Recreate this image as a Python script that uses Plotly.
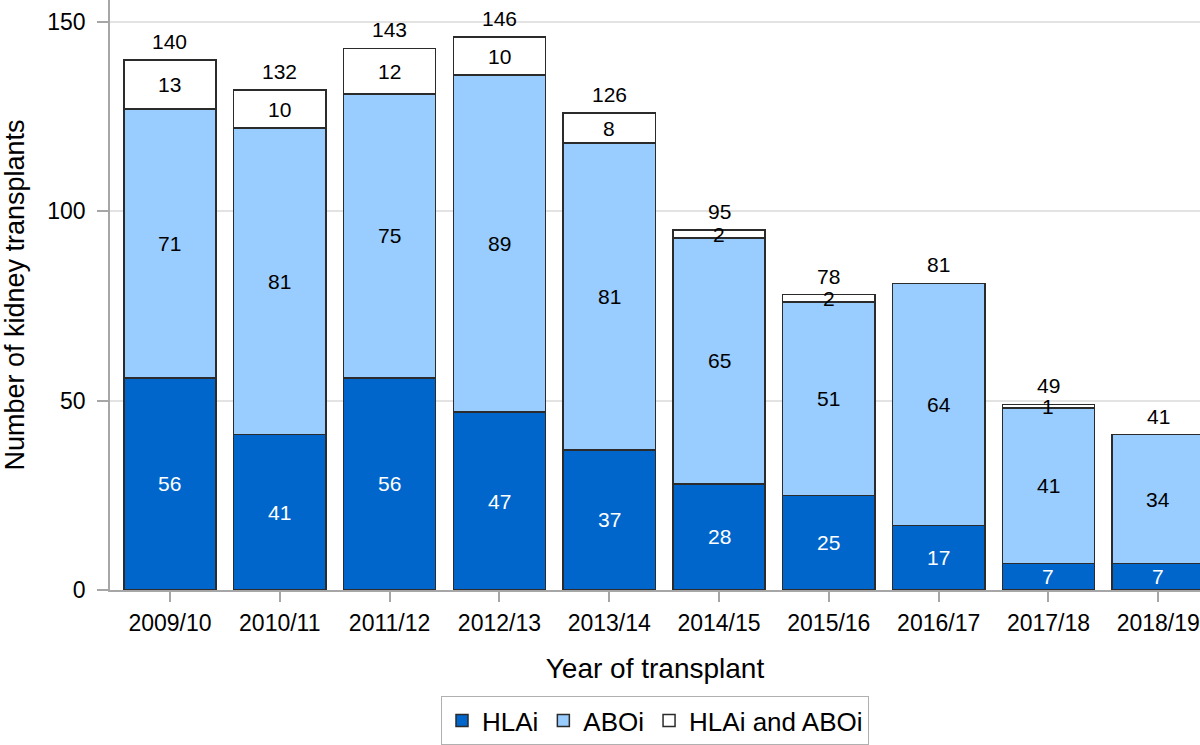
import plotly.graph_objects as go

years = ["2009/10", "2010/11", "2011/12", "2012/13", "2013/14",
         "2014/15", "2015/16", "2016/17", "2017/18", "2018/19"]
hlai = [56, 41, 56, 47, 37, 28, 25, 17, 7, 7]
aboi = [71, 81, 75, 89, 81, 65, 51, 64, 41, 34]
both = [13, 10, 12, 10, 8, 2, 2, 0, 1, 0]
totals = [140, 132, 143, 146, 126, 95, 78, 81, 49, 41]

font = "Liberation Sans, Arial, sans-serif"
edge = dict(color="#2b2b2b", width=1.5)
axis_grey = "#a6a6a6"

fig = go.Figure()
fig.add_trace(go.Bar(x=years, y=hlai, name="HLAi",
                     marker=dict(color="#0066CC", line=edge)))
fig.add_trace(go.Bar(x=years, y=aboi, name="ABOi",
                     marker=dict(color="#99CCFF", line=edge)))
fig.add_trace(go.Bar(x=years, y=both, name="HLAi and ABOi",
                     marker=dict(color="#FFFFFF", line=edge)))

# segment labels
for i, yr in enumerate(years):
    base = 0
    for vals, col in ((hlai, "white"), (aboi, "black"), (both, "black")):
        v = vals[i]
        if v > 0:
            fig.add_annotation(x=yr, y=base + v / 2, text=str(v), showarrow=False,
                               font=dict(family=font, size=21, color=col))
        base += v
    fig.add_annotation(x=yr, y=totals[i], text=str(totals[i]), showarrow=False,
                       yanchor="bottom", yshift=5,
                       font=dict(family=font, size=21, color="black"))

fig.update_layout(
    barmode="stack",
    bargap=0.16,
    width=1200, height=745,
    margin=dict(l=110, r=0, t=0, b=155),
    paper_bgcolor="white", plot_bgcolor="white",
    font=dict(family=font, size=23, color="black"),
    legend=dict(orientation="h", x=0.5, xanchor="center", y=-0.18, yanchor="top",
                bordercolor="#b0b0b0", borderwidth=1, font=dict(size=26),
                itemwidth=30, traceorder="normal"),
    xaxis=dict(range=[-0.546, 9.38], showline=True, linecolor=axis_grey, linewidth=1.5,
               ticks="outside", tickcolor=axis_grey, ticklen=10, tickwidth=1.5,
               tickfont=dict(size=23), ticklabelstandoff=2, automargin=False,
               title=dict(text="Year of transplant", font=dict(size=28), standoff=23)),
    yaxis=dict(range=[0, 155.8], tickvals=[0, 50, 100, 150], showline=True,
               linecolor=axis_grey, linewidth=1.5, ticks="outside", tickcolor=axis_grey,
               ticklen=11, tickwidth=1.5, showgrid=True, gridcolor="#e3e3e3",
               gridwidth=1.5, zeroline=False, tickfont=dict(size=23),
               ticklabelstandoff=7, automargin=False,
               title=dict(text="Number of kidney transplants", font=dict(size=27),
                          standoff=15)),
)

# drop the default page margin so the 1200x745 figure fills the window exactly
page_js = ("document.body.style.margin='0';"
           "document.body.style.overflow='hidden';"
           "document.documentElement.style.overflow='hidden';")
fig.write_html("out.html", config={"displayModeBar": False}, post_script=page_js)
